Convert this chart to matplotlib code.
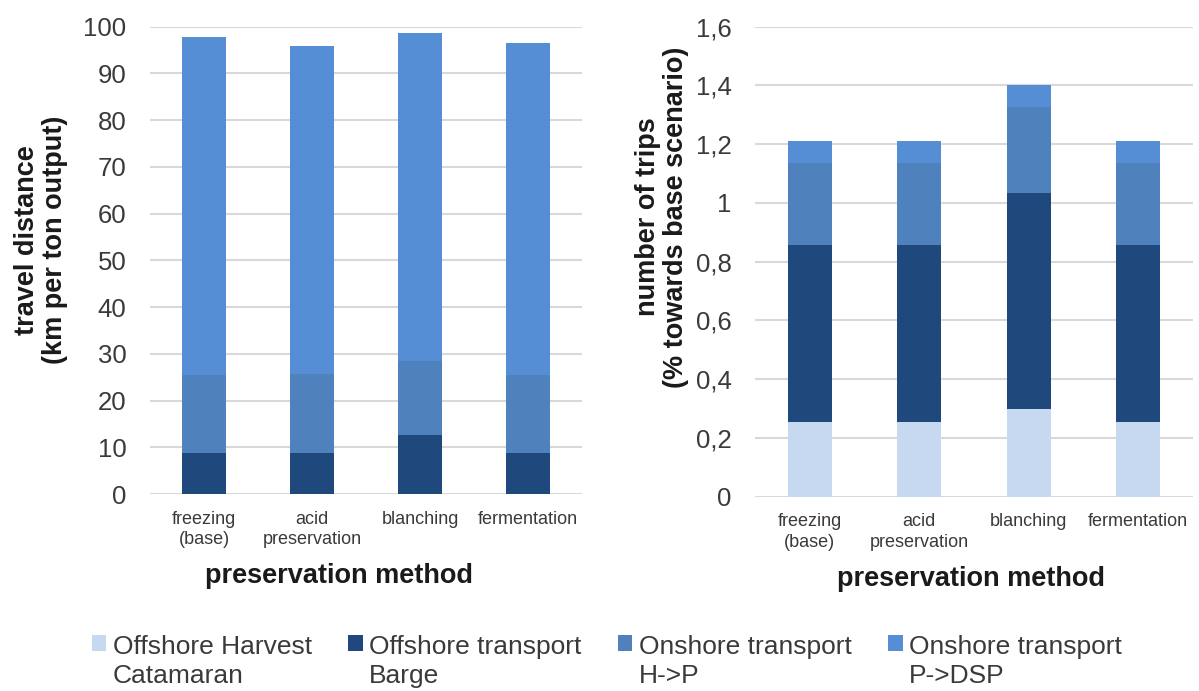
import matplotlib
matplotlib.use('Agg')
import matplotlib.pyplot as plt
from matplotlib.patches import Rectangle
from matplotlib.legend_handler import HandlerPatch
import numpy as np

plt.rcParams['font.family'] = ['Liberation Sans', 'DejaVu Sans']

# data
methods = ['freezing\n(base)', 'acid\npreservation', 'blanching', 'fermentation']
series = ['Offshore Harvest\nCatamaran', 'Offshore transport\nBarge',
          'Onshore transport\nH->P', 'Onshore transport\nP->DSP']
colors = ['#c6d9f0', '#1f497d', '#4f81bd', '#558ed5']

# travel distance (km per ton output)
dist_harvest = [0, 0, 0, 0]
dist_barge = [8.7, 8.7, 12.6, 8.7]
dist_h_p = [16.8, 16.9, 15.8, 16.8]
dist_p_dsp = [72.3, 70.3, 70.3, 71.1]

# number of trips (% towards base scenario)
trips_harvest = [0.255, 0.255, 0.298, 0.255]
trips_barge = [0.602, 0.602, 0.735, 0.602]
trips_h_p = [0.280, 0.280, 0.295, 0.280]
trips_p_dsp = [0.074, 0.074, 0.074, 0.074]

left_ticks = [0, 10, 20, 30, 40, 50, 60, 70, 80, 90, 100]
right_ticks = [0, 0.2, 0.4, 0.6, 0.8, 1.0, 1.2, 1.4, 1.6]
right_ticklabels = ['0', '0,2', '0,4', '0,6', '0,8', '1', '1,2', '1,4', '1,6']

tick_color = '#3a3a3a'
grid_color = '#d9d9d9'

fig = plt.figure(figsize=(11.99, 6.91), dpi=100)
ax1 = fig.add_axes([150 / 1199, 1 - 494 / 691, 432 / 1199, 467.3 / 691])
ax2 = fig.add_axes([755 / 1199, 1 - 496.7 / 691, 438 / 1199, 470 / 691])


def stacked(ax, parts, width):
    x = np.arange(len(methods))
    bottom = np.zeros(len(methods))
    handles = []
    for vals, c in zip(parts, colors):
        bars = ax.bar(x, vals, width, bottom=bottom, color=c, zorder=3)
        handles.append(bars.patches[0])
        bottom += np.array(vals)
    ax.set_xlim(-0.5, len(methods) - 0.5)
    ax.set_xticks(x)
    ax.set_xticklabels(methods, fontsize=13, color=tick_color, linespacing=1.25)
    ax.tick_params(axis='x', length=0, pad=12)
    ax.tick_params(axis='y', length=0, pad=17, labelsize=18.5, labelcolor=tick_color)
    ax.grid(axis='y', color=grid_color, linewidth=1.5, zorder=0)
    for s in ax.spines.values():
        s.set_visible(False)
    return handles


handles = stacked(ax1, [dist_harvest, dist_barge, dist_h_p, dist_p_dsp], 0.40)
ax1.set_ylim(0, 100)
ax1.set_yticks(left_ticks)
ax1.set_ylabel('travel distance\n(km per ton output)', fontsize=19.5,
               fontweight='bold', color='#1a1a1a', linespacing=1.1)
ax1.yaxis.set_label_coords(-0.19, 0.543)
ax1.set_xlabel('preservation method', fontsize=19.5, fontweight='bold', color='#1a1a1a')
ax1.xaxis.set_label_coords(0.4375, -0.148)

stacked(ax2, [trips_harvest, trips_barge, trips_h_p, trips_p_dsp], 0.40)
ax2.set_ylim(0, 1.6)
ax2.set_yticks(right_ticks)
ax2.set_yticklabels(right_ticklabels)
ax2.set_ylabel('number of trips\n(% towards base scenario)', fontsize=19.5,
               fontweight='bold', color='#1a1a1a', linespacing=1.1)
ax2.yaxis.set_label_coords(-0.15, 0.595)
ax2.set_xlabel('preservation method', fontsize=19.5, fontweight='bold', color='#1a1a1a')
ax2.xaxis.set_label_coords(0.493, -0.147)


# small square next to the first line of each legend label
def top_square(legend, orig_handle, xdescent, ydescent, width, height, fontsize):
    return Rectangle((-xdescent, -ydescent + 13.7), width, height)


leg = fig.legend(handles, series, loc='lower left', bbox_to_anchor=(81 / 1199, -0.0116),
                 ncol=4, frameon=False, fontsize=19, labelcolor=tick_color,
                 handlelength=0.56, handleheight=0.56, handletextpad=0.25,
                 columnspacing=1.36, borderaxespad=0,
                 handler_map={h: HandlerPatch(patch_func=top_square) for h in handles})
for t in leg.get_texts():
    t.set_linespacing(1.27)

fig.savefig('out.png', dpi=100)
